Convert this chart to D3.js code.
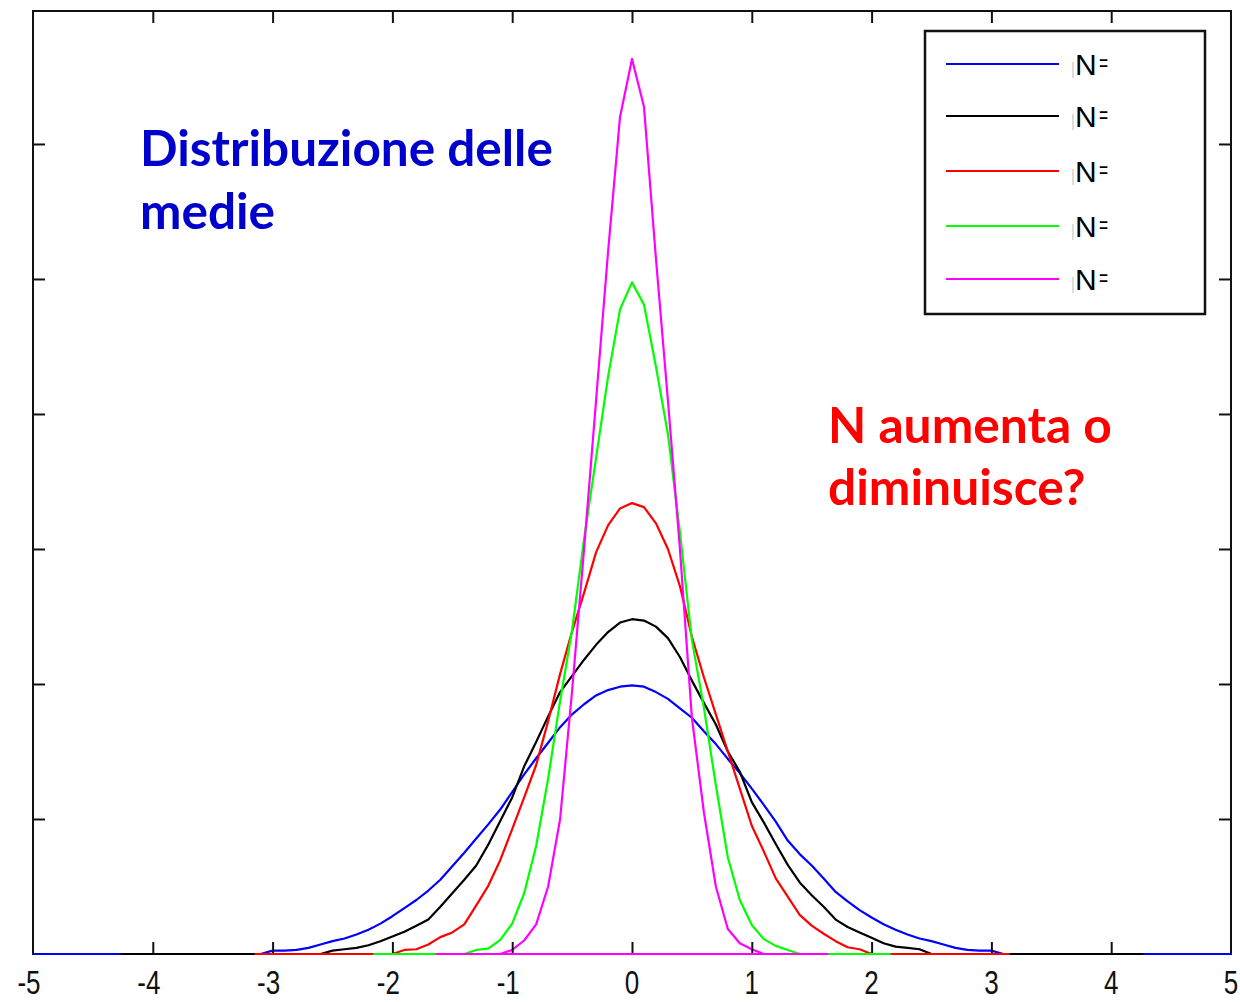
<!DOCTYPE html>
<html><head><meta charset="utf-8">
<script src="https://cdn.jsdelivr.net/npm/d3@7"></script>
<style>body{margin:0;background:#fff}svg{display:block}</style>
</head><body>
<svg id="c" width="1240" height="1002"></svg>
<script>
// ---- data ----
const xTicks = [-5,-4,-3,-2,-1,0,1,2,3,4,5];
const xTickLabels = ["-5","-4","-3","-2","-1","0","1","2","3","4","5"];
const yTicks = [0,0.2,0.4,0.6,0.8,1.0,1.2];

const xGrid = [-3.2,-3.1,-3.0,-2.9,-2.8,-2.7,-2.6,-2.5,-2.4,-2.3,-2.2,-2.1,-2.0,-1.9,-1.8,-1.7,-1.6,-1.5,-1.4,-1.3,-1.2,-1.1,-1.0,-0.9,-0.8,-0.7,-0.6,-0.5,-0.4,-0.3,-0.2,-0.1,
  0,
  0.1,0.2,0.3,0.4,0.5,0.6,0.7,0.8,0.9,1.0,1.1,1.2,1.3,1.4,1.5,1.6,1.7,1.8,1.9,2.0,2.1,2.2,2.3,2.4,2.5,2.6,2.7,2.8,2.9,3.0,3.1,3.2];

const seriesNames = ["N=","N=","N=","N=","N="];
const seriesColors = ["#0000ff","#000000","#ff0000","#00ff00","#ff00ff"];
const seriesStart = [-5,-4.27,-3.15,-2.16,-1.64];
const seriesEnd   = [5,4.27,3.15,2.16,1.64];

const blueVals = [0,0,.005,.005,.006,.009,.014,.019,.023,.029,.036,.045,.056,.068,.080,.094,.110,.130,.150,.171,.192,.214,.240,.266,.290,.313,.336,.355,.370,.383,.391,.396,
  .398,
  .396,.388,.378,.364,.350,.330,.311,.289,.268,.245,.221,.196,.168,.148,.131,.112,.092,.078,.065,.054,.044,.036,.029,.023,.019,.014,.009,.006,.005,.005,0,0];
const blackVals = [0,0,0,0,0,0,0,.005,.007,.009,.013,.019,.026,.033,.042,.051,.070,.090,.110,.131,.162,.197,.232,.278,.314,.352,.388,.412,.436,.458,.477,.491,
  .496,
  .494,.485,.468,.440,.405,.372,.340,.300,.270,.225,.195,.163,.132,.106,.087,.070,.051,.040,.032,.024,.016,.011,.009,.007,0,0,0,0,0,0,0,0];
const redVals = [0,0,0,0,0,0,0,0,0,0,0,0,0,.006,.007,.014,.025,.032,.044,.072,.101,.139,.185,.232,.280,.345,.415,.478,.535,.595,.635,.660,
  .668,
  .662,.638,.600,.545,.470,.410,.355,.300,.245,.190,.152,.112,.085,.058,.042,.030,.019,.010,.007,0,0,0,0,0,0,0,0,0,0,0,0,0];
const greenVals = [0,0,0,0,0,0,0,0,0,0,0,0,0,0,0,0,0,0,0,.006,.008,.021,.045,.090,.160,.260,.375,.480,.615,.735,.855,.955,
  .995,
  .962,.870,.770,.625,.465,.365,.250,.143,.080,.043,.022,.012,.006,0,0,0,0,0,0,0,0,0,0,0,0,0,0,0,0,0,0,0];
const magentaVals = [0,0,0,0,0,0,0,0,0,0,0,0,0,0,0,0,0,0,0,0,0,0,.006,.020,.044,.100,.200,.390,.600,.820,1.040,1.240,
  1.326,
  1.255,1.030,.820,.600,.350,.210,.100,.037,.016,.007,0,0,0,0,0,0,0,0,0,0,0,0,0,0,0,0,0,0,0,0,0,0];
const seriesVals = [blueVals, blackVals, redVals, greenVals, magentaVals];

const titleLines = ["Distribuzione delle","medie"];
const questionLines = ["N aumenta o","diminuisce?"];

// ---- drawing ----
const svg = d3.select("#c");
const x = d3.scaleLinear().domain([-5,5]).range([33,1231]);
const y = d3.scaleLinear().domain([0,1.397]).range([954,11]);
const [X0,X1] = x.range(); const [Y0,Y1] = y.range();

// curves
const line = d3.line().x(d=>x(d[0])).y(d=>y(d[1]));
seriesVals.forEach((vals,i)=>{
  const pts = [[seriesStart[i],0]];
  xGrid.forEach((gx,j)=>{ if (gx>seriesStart[i] && gx<seriesEnd[i]) pts.push([gx, vals[j]]); });
  pts.push([seriesEnd[i],0]);
  svg.append("path").datum(pts).attr("d",line)
    .attr("fill","none").attr("stroke",seriesColors[i]).attr("stroke-width",2.2)
    .attr("stroke-linejoin","round");
});

// frame and ticks
const tickStyle = g => { g.select(".domain").remove(); g.selectAll(".tick line").attr("stroke","#111").attr("stroke-width",2); };
svg.append("g").attr("transform",`translate(0,${Y0})`).call(d3.axisBottom(x).tickValues(xTicks.slice(1,-1)).tickSize(-12).tickFormat("")).call(tickStyle);
svg.append("g").attr("transform",`translate(0,${Y1})`).call(d3.axisTop(x).tickValues(xTicks.slice(1,-1)).tickSize(-12).tickFormat("")).call(tickStyle);
svg.append("g").attr("transform",`translate(${X0},0)`).call(d3.axisLeft(y).tickValues(yTicks.slice(1)).tickSize(-12).tickFormat("")).call(tickStyle);
svg.append("g").attr("transform",`translate(${X1},0)`).call(d3.axisRight(y).tickValues(yTicks.slice(1)).tickSize(-12).tickFormat("")).call(tickStyle);
svg.append("rect").attr("x",X0).attr("y",Y1).attr("width",X1-X0).attr("height",Y0-Y1)
  .attr("fill","none").attr("stroke","#111").attr("stroke-width",2);
// zero-level segments of each series drawn over the frame's bottom edge
seriesVals.forEach((vals,i)=>{
  svg.append("line").attr("x1",x(seriesStart[i])).attr("x2",x(seriesEnd[i])).attr("y1",Y0).attr("y2",Y0)
    .attr("stroke",seriesColors[i]).attr("stroke-width",2.2);
});

// tick labels
xTicks.forEach((t,i)=>{
  svg.append("text").attr("transform",`translate(${x(t)+(t<0?-4:0)},994) scale(1,1.25)`)
    .attr("text-anchor","middle").attr("font-family","Liberation Sans, Arial, sans-serif")
    .attr("font-size",26).attr("fill","#111").text(xTickLabels[i]);
});

// legend
const lg = svg.append("g");
lg.append("rect").attr("x",925).attr("y",31).attr("width",280).attr("height",283)
  .attr("fill","#fff").attr("stroke","#111").attr("stroke-width",2.5);
const rowY = [64,116,171,226,279];
seriesNames.forEach((nm,i)=>{
  lg.append("line").attr("x1",946).attr("x2",1059).attr("y1",rowY[i]).attr("y2",rowY[i])
    .attr("stroke",seriesColors[i]).attr("stroke-width",2.2);
  lg.append("line").attr("x1",1073).attr("x2",1073).attr("y1",rowY[i]-2).attr("y2",rowY[i]+14)
    .attr("stroke","#bbb").attr("stroke-width",1);
  lg.append("text").attr("x",1075).attr("y",rowY[i]+10.5)
    .attr("font-family","Liberation Sans, Arial, sans-serif").attr("font-size",30).attr("fill","#000")
    .text(nm.slice(0,1));
  lg.append("text").attr("transform",`translate(1099,${rowY[i]+6.5}) scale(0.65,1)`)
    .attr("font-family","Liberation Sans, Arial, sans-serif").attr("font-size",24).attr("fill","#000")
    .text(nm.slice(1));
});

// annotations
function fitText(lines, x0, baselines, targetWidth, color){
  const probe = svg.append("text").attr("font-family","Lato, sans-serif").attr("font-weight","bold")
    .attr("font-size",100).text(lines[0]);
  const w = probe.node().getComputedTextLength(); probe.remove();
  const fs = 100*targetWidth/w;
  lines.forEach((t,i)=>{
    svg.append("text").attr("x",x0).attr("y",baselines[i]).attr("font-family","Lato, sans-serif")
      .attr("font-weight","bold").attr("font-size",fs).attr("fill",color).text(t);
  });
}
fitText(titleLines, 140, [166,229], 413, "#0000cc");
fitText(questionLines, 828, [443,505], 284, "#ff0000");
</script>
</body></html>
